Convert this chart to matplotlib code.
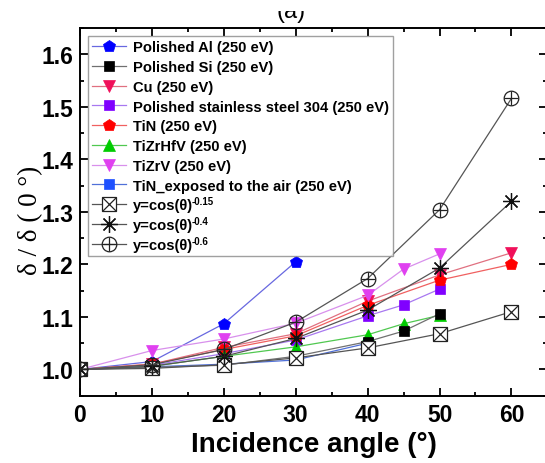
import matplotlib
matplotlib.use('Agg')
import matplotlib.pyplot as plt
from matplotlib.ticker import MultipleLocator, FormatStrFormatter
from matplotlib.patches import Rectangle

plt.rcParams['font.family'] = ['Liberation Sans', 'DejaVu Sans']

# ---- data ----
al_x = [0, 10, 20, 30]
al_y = [1.0, 1.015, 1.087, 1.205]
si_x = [0, 10, 20, 30, 40, 45, 50]
si_y = [1.0, 1.004, 1.008, 1.025, 1.053, 1.073, 1.106]
cu_x = [0, 10, 20, 30, 40, 50, 60]
cu_y = [1.0, 1.010, 1.042, 1.068, 1.130, 1.180, 1.222]
ss_x = [0, 10, 20, 30, 40, 45, 50]
ss_y = [1.0, 1.008, 1.030, 1.056, 1.102, 1.123, 1.153]
tin_x = [0, 10, 20, 30, 40, 50, 60]
tin_y = [1.0, 1.010, 1.038, 1.064, 1.122, 1.170, 1.200]
hfv_x = [0, 10, 20, 30, 40, 45, 50]
hfv_y = [1.0, 1.006, 1.025, 1.043, 1.066, 1.087, 1.103]
zrv_x = [0, 10, 20, 30, 40, 45, 50]
zrv_y = [1.0, 1.036, 1.058, 1.088, 1.141, 1.191, 1.220]
tinair_x = [0, 10, 20, 30, 40]
tinair_y = [1.0, 1.005, 1.010, 1.018, 1.050]
cos_x = [0, 10, 20, 30, 40, 50, 60]
cos015_y = [1.0, 1.002, 1.009, 1.022, 1.041, 1.068, 1.110]
cos04_y = [1.0, 1.006, 1.025, 1.059, 1.113, 1.193, 1.320]
cos06_y = [1.0, 1.009, 1.038, 1.090, 1.173, 1.304, 1.516]

labels = ['Polished Al (250 eV)', 'Polished Si (250 eV)', 'Cu (250 eV)',
          'Polished stainless steel 304 (250 eV)', 'TiN (250 eV)',
          'TiZrHfV (250 eV)', 'TiZrV (250 eV)',
          'TiN_exposed to the air (250 eV)',
          'y=cos(θ)', 'y=cos(θ)', 'y=cos(θ)']
exponents = ['-0.15', '-0.4', '-0.6']

fig = plt.figure(figsize=(5.45, 4.64), dpi=100)
ax = fig.add_axes([80/545, 1-396.7/464, 467.4/545, 367.7/464])

series = [
    (al_x, al_y, 'p', '#0000FF', '#6868E0', 9),
    (cu_x, cu_y, 'v', '#F0105A', '#E07080', 8),
    (ss_x, ss_y, 's', '#8000FF', '#A878F0', 7),
    (tin_x, tin_y, 'p', '#FF0000', '#F06060', 9),
    (hfv_x, hfv_y, '^', '#00CC00', '#50C850', 8),
    (zrv_x, zrv_y, 'v', '#E040F0', '#D890EC', 8),
    (tinair_x, tinair_y, 's', '#1E50FF', '#5070D8', 7),
    (si_x, si_y, 's', '#000000', '#707070', 7),
]
order = [0, 2, 3, 4, 5, 6, 7, 1]
handles = {}
for (x, y, m, mc, lc, ms), idx in zip(series, order):
    h, = ax.plot(x, y, color=lc, lw=0.9, marker=m, ms=ms, mfc=mc, mec=mc,
                 mew=0.5, zorder=3)
    handles[idx] = h

lc = '#555555'
l1, = ax.plot(cos_x, cos015_y, color=lc, lw=0.9, marker='s', ms=9.5,
              mfc='white', mec='#222222', mew=0.9, zorder=4)
l1b, = ax.plot(cos_x, cos015_y, ls='none', marker='x', ms=9.5,
               mec='#222222', mew=0.9, zorder=4)
l2, = ax.plot(cos_x, cos04_y, color=lc, lw=0.9, marker=(8, 2, 0), ms=12,
              mec='#111111', mew=0.9, zorder=4)
l3, = ax.plot(cos_x, cos06_y, color=lc, lw=0.9, marker='o', ms=10.5,
              mfc='none', mec='#222222', mew=0.9, zorder=4)
l3b, = ax.plot(cos_x, cos06_y, ls='none', marker='+', ms=10.5,
               mec='#222222', mew=0.9, zorder=4)
handles[8] = (l1, l1b)
handles[9] = l2
handles[10] = (l3, l3b)

ax.set_xlim(0, 65)
ax.set_ylim(0.95, 1.65)
ax.xaxis.set_major_locator(MultipleLocator(10))
ax.xaxis.set_minor_locator(MultipleLocator(5))
ax.yaxis.set_major_locator(MultipleLocator(0.1))
ax.yaxis.set_minor_locator(MultipleLocator(0.05))
ax.yaxis.set_major_formatter(FormatStrFormatter('%.1f'))
ax.tick_params(which='both', direction='in', top=True, right=True,
               width=1.3, labelsize=16.5)
ax.tick_params(which='major', length=6)
ax.tick_params(which='minor', length=3)
for lab in ax.get_xticklabels() + ax.get_yticklabels():
    lab.set_fontweight('bold')
ax.tick_params(axis='x', pad=5)
ax.tick_params(axis='y', pad=5)
for s in ax.spines.values():
    s.set_linewidth(1.4)

ax.set_xlabel('Incidence angle (°)', fontsize=20, fontweight='bold', labelpad=4)
fig.text(31/545, 1-220/464, 'δ / δ ( 0 °)', rotation=90, ha='center',
         va='center', fontsize=19.5, family=['Liberation Serif', 'DejaVu Serif'])
fig.text(291/545, 1-18/464, '(a)', ha='center', va='baseline', fontsize=17)
fig.patches.append(Rectangle((0, 1-12/464), 1, 12/464, transform=fig.transFigure,
                             facecolor='white', edgecolor='none', zorder=10))

leg = ax.legend([handles[i] for i in range(11)], labels, loc='upper left',
                bbox_to_anchor=(8/467.4, 1-8/367.7), borderaxespad=0,
                prop={'weight': 'bold', 'size': 10.6}, frameon=True,
                fancybox=False, edgecolor='#888888', handlelength=2.3,
                handletextpad=0.45, labelspacing=0.39, borderpad=0.3)
leg.get_frame().set_linewidth(1.0)

# superscript exponents placed just after the cos(θ) legend labels
fig.canvas.draw()
renderer = fig.canvas.get_renderer()
inv = fig.transFigure.inverted()
for t, e in zip(leg.get_texts()[8:], exponents):
    bb = t.get_window_extent(renderer)
    fx, fy = inv.transform((bb.x1 - 1.0, bb.y1 + 2.0))
    fig.text(fx, fy, e, ha='left', va='top', fontsize=7, fontweight='bold',
             zorder=6)

fig.savefig('out.png', dpi=100)
